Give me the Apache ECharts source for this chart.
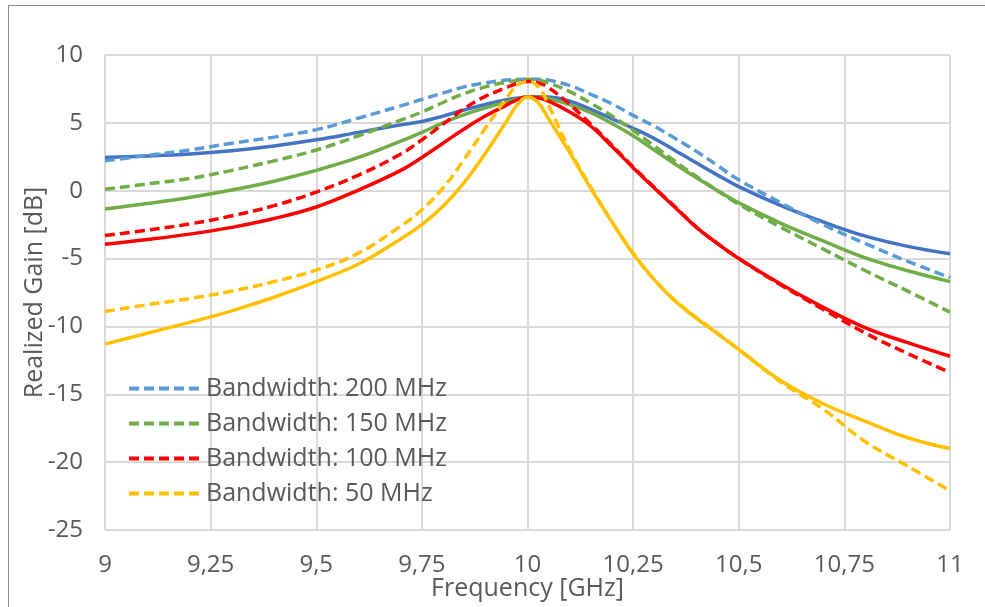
<!DOCTYPE html>
<html>
<head>
<meta charset="utf-8">
<title>Realized Gain</title>
<script src="https://cdn.jsdelivr.net/npm/echarts@6/dist/echarts.min.js"></script>
<style>
  html, body { margin: 0; padding: 0; background: #fff; }
  #frame { position: absolute; left: 8px; top: 5px; width: 1000px; height: 700px; border: 1px solid #8c8c8c; }
  #chart { position: absolute; left: 0; top: 0; width: 985px; height: 607px; }
</style>
</head>
<body>
<div id="frame"></div>
<div id="chart"></div>
<script>
// frequency points [GHz]
const freq = [9, 9.1, 9.2, 9.3, 9.4, 9.5, 9.6, 9.7, 9.75, 9.8, 9.85, 9.9, 9.95, 9.975, 10,
  10.025, 10.05, 10.1, 10.15, 10.2, 10.25, 10.3, 10.35, 10.4, 10.45, 10.5, 10.6, 10.7, 10.8, 10.9, 11];

// dashed curves (legend entries)
const bw200Dashed = [2.2, 2.6, 3.0, 3.5, 3.95, 4.5, 5.35, 6.25, 6.73, 7.2, 7.65, 7.95, 8.15, 8.2, 8.22,
  8.22, 8.15, 7.75, 7.1, 6.4, 5.55, 4.75, 3.85, 2.9, 1.85, 0.8, -0.9, -2.5, -3.9, -5.2, -6.4];
const bw150Dashed = [0.1, 0.5, 0.9, 1.5, 2.2, 3.0, 4.05, 5.2, 5.8, 6.5, 7.15, 7.65, 8.0, 8.12, 8.2,
  8.15, 7.95, 7.3, 6.45, 5.5, 4.45, 3.3, 2.15, 1.05, 0.0, -1.0, -2.7, -4.3, -5.9, -7.4, -8.95];
const bw100Dashed = [-3.3, -2.9, -2.45, -1.85, -1.1, -0.1, 1.15, 2.7, 3.75, 4.9, 6.05, 6.95, 7.6, 7.9, 8.05,
  7.95, 7.6, 6.35, 4.9, 3.35, 1.75, 0.25, -1.2, -2.7, -3.9, -5.0, -6.95, -8.75, -10.5, -12.0, -13.4];
const bw50Dashed = [-8.9, -8.4, -7.95, -7.4, -6.7, -5.85, -4.6, -2.6, -1.4, 0.2, 2.3, 4.6, 6.8, 7.75, 8.05,
  7.7, 6.3, 3.0, 0.25, -2.3, -4.6, -6.55, -8.1, -9.35, -10.5, -11.7, -14.1, -16.1, -18.5, -20.3, -22.1];

// solid curves (no legend entry)
const bw200Solid = [2.45, 2.55, 2.7, 2.95, 3.3, 3.75, 4.3, 4.85, 5.1, 5.5, 5.95, 6.35, 6.7, 6.82, 6.9,
  6.92, 6.9, 6.6, 6.0, 5.3, 4.6, 3.85, 2.95, 2.05, 1.15, 0.3, -1.1, -2.3, -3.35, -4.1, -4.65];
const bw150Solid = [-1.35, -0.95, -0.5, 0.05, 0.7, 1.5, 2.45, 3.65, 4.3, 5.0, 5.6, 6.1, 6.55, 6.75, 6.9,
  6.9, 6.8, 6.35, 5.75, 4.95, 4.05, 3.0, 1.95, 0.95, 0.0, -0.9, -2.4, -3.7, -4.95, -5.9, -6.7];
const bw100Solid = [-3.95, -3.6, -3.2, -2.7, -2.05, -1.2, 0.05, 1.5, 2.45, 3.5, 4.55, 5.5, 6.3, 6.7, 6.9,
  6.85, 6.6, 5.8, 4.75, 3.25, 1.7, 0.2, -1.25, -2.7, -3.9, -5.0, -6.9, -8.6, -10.1, -11.2, -12.2];
const bw50Solid = [-11.3, -10.5, -9.7, -8.85, -7.85, -6.7, -5.4, -3.55, -2.5, -1.15, 0.6, 2.75, 5.1, 6.3, 6.9,
  6.5, 5.3, 2.8, 0.15, -2.3, -4.65, -6.55, -8.15, -9.4, -10.55, -11.7, -14.0, -15.7, -17.0, -18.2, -19.0];

const legendNames = ['Bandwidth: 200 MHz', 'Bandwidth: 150 MHz', 'Bandwidth: 100 MHz', 'Bandwidth: 50 MHz'];

const BLUE_LIGHT = '#5B9BD5';
const BLUE = '#4472C4';
const GREEN = '#70AD47';
const RED = '#FF0000';
const YELLOW = '#FFC000';
const TEXT = '#595959';
const GRID = '#D9D9D9';
const FONT = '"Open Sans", sans-serif';

function pairs(ys) {
  return freq.map((f, i) => [f, ys[i]]);
}

function makeLine(name, ys, color, dashed) {
  return {
    name: name,
    type: 'line',
    data: pairs(ys),
    smooth: 0.4,
    symbol: 'none',
    lineStyle: {
      color: color,
      width: 3.5,
      type: dashed ? [10, 5] : 'solid',
      cap: 'butt'
    },
    itemStyle: { color: color },
    z: dashed ? 3 : 2
  };
}

const chart = echarts.init(document.getElementById('chart'));

const option = {
  animation: false,
  backgroundColor: 'transparent',
  textStyle: { fontFamily: FONT },
  grid: { left: 105, right: 35, top: 55, bottom: 77, containLabel: false, outerBoundsMode: 'none' },
  legend: {
    data: legendNames,
    orient: 'vertical',
    left: 122,
    top: 371,
    itemWidth: 72,
    itemHeight: 14,
    itemGap: 10,
    // hide the marker dot, keep only the dashed line
    itemStyle: { opacity: 0 },
    lineStyle: { width: 4 },
    textStyle: { color: TEXT, fontSize: 25, fontFamily: FONT }
  },
  xAxis: {
    type: 'value',
    min: 9,
    max: 11,
    interval: 0.25,
    name: 'Frequency [GHz]',
    nameLocation: 'middle',
    nameGap: 46,
    nameMoveOverlap: false,
    nameTextStyle: { color: TEXT, fontSize: 25, fontFamily: FONT },
    axisLine: { show: true, lineStyle: { color: GRID, width: 2 } },
    axisTick: { show: false },
    axisLabel: {
      color: TEXT,
      fontSize: 24,
      margin: 23,
      formatter: v => String(v).replace('.', ',')
    },
    splitLine: { show: true, lineStyle: { color: GRID, width: 2 } }
  },
  yAxis: {
    type: 'value',
    min: -25,
    max: 10,
    interval: 5,
    name: 'Realized Gain [dB]',
    nameLocation: 'middle',
    nameGap: 58,
    nameMoveOverlap: false,
    nameTextStyle: { color: TEXT, fontSize: 25, fontFamily: FONT },
    axisLine: { show: false },
    axisTick: { show: false },
    axisLabel: { color: TEXT, fontSize: 24, margin: 22 },
    splitLine: { show: true, lineStyle: { color: GRID, width: 2 } }
  },
  series: [
    makeLine('200 MHz solid', bw200Solid, BLUE, false),
    makeLine('150 MHz solid', bw150Solid, GREEN, false),
    makeLine('100 MHz solid', bw100Solid, RED, false),
    makeLine('50 MHz solid', bw50Solid, YELLOW, false),
    makeLine(legendNames[0], bw200Dashed, BLUE_LIGHT, true),
    makeLine(legendNames[1], bw150Dashed, GREEN, true),
    makeLine(legendNames[2], bw100Dashed, RED, true),
    makeLine(legendNames[3], bw50Dashed, YELLOW, true)
  ]
};

chart.setOption(option);
</script>
</body>
</html>
